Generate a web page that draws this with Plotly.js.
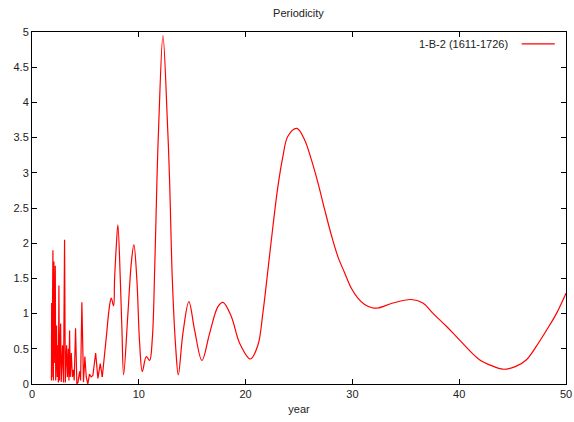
<!DOCTYPE html>
<html>
<head>
<meta charset="utf-8">
<script src="https://cdn.plot.ly/plotly-3.0.1.min.js"></script>
<style>html,body{margin:0;padding:0;background:#fff;}#chart{width:574px;height:422px;}</style>
</head>
<body>
<div id="chart"></div>
<script>
// Short-period region (jagged, straight segments)
var periodShort = [1.82, 1.84, 1.87, 1.96, 2.00, 2.05, 2.09, 2.18, 2.22, 2.30, 2.36, 2.42, 2.47, 2.52, 2.57, 2.68, 2.74, 2.86, 2.95, 3.05, 3.12, 3.24, 3.32, 3.40, 3.46, 3.52, 3.58, 3.68, 3.78, 3.87, 3.95, 4.08, 4.20, 4.30, 4.46, 4.55, 4.67, 4.82, 4.95, 5.08, 5.23, 5.38, 5.54, 5.70, 5.96, 6.17, 6.39, 6.58];
var powerShort  = [0.05, 1.15, 0.10, 1.90, 0.05, 1.74, 0.30, 1.68, 0.05, 0.83, 0.10, 0.55, 0.02, 1.40, 0.05, 0.86, 0.03, 0.55, 0.02, 2.05, 0.02, 0.55, 0.10, 0.50, 0.05, 0.76, 0.10, 0.44, 0.10, 0.20, 0.05, 0.79, 0.00, 0.02, 0.18, 0.05, 1.16, 0.03, 0.39, 0.10, 0.00, 0.14, 0.10, 0.12, 0.44, 0.08, 0.29, 0.10];

// Longer-period region (smooth curve)
var periodLong = [6.58, 6.96, 7.25, 7.42, 7.64, 7.73, 7.89, 8.04, 8.27, 8.42, 8.58, 8.98, 9.30, 9.54, 9.82, 10.07, 10.33, 10.70, 11.01, 11.26, 11.50, 11.70, 11.88, 12.26, 12.67, 12.88, 13.14, 13.45, 13.70, 14.13, 14.69, 15.22, 15.91, 16.63, 17.41, 17.88, 18.66, 19.44, 20.45, 21.15, 21.62, 22.09, 22.56, 23.03, 23.49, 23.96, 24.80, 25.52, 26.15, 26.77, 27.40, 28.02, 28.64, 29.27, 29.90, 30.51, 31.14, 31.92, 32.40, 33.80, 35.50, 36.60, 37.50, 38.80, 40.00, 41.90, 43.20, 44.10, 45.30, 46.30, 47.20, 48.20, 49.10, 50.00];
var powerLong  = [0.10, 0.67, 1.10, 1.22, 1.11, 1.48, 1.95, 2.26, 1.48, 0.77, 0.13, 1.00, 1.72, 1.98, 1.48, 0.60, 0.18, 0.39, 0.335, 0.63, 1.70, 2.90, 3.75, 4.95, 3.75, 2.90, 1.48, 0.53, 0.13, 0.72, 1.17, 0.77, 0.335, 0.72, 1.10, 1.16, 0.96, 0.58, 0.355, 0.55, 1.01, 1.62, 2.24, 2.81, 3.23, 3.52, 3.63, 3.47, 3.19, 2.86, 2.48, 2.12, 1.81, 1.58, 1.36, 1.22, 1.13, 1.08, 1.08, 1.15, 1.20, 1.15, 1.01, 0.82, 0.63, 0.345, 0.25, 0.21, 0.25, 0.345, 0.53, 0.77, 1.00, 1.29];

var seriesName = "1-B-2 (1611-1726)";
var xTicks = [0, 10, 20, 30, 40, 50];
var yTicks = [0, 0.5, 1, 1.5, 2, 2.5, 3, 3.5, 4, 4.5, 5];

var fontFam = "Liberation Sans, Arial, sans-serif";
var traces = [
  {x: periodShort, y: powerShort, type: "scatter", mode: "lines", line: {color: "#ff0000", width: 1.2, shape: "linear"}, showlegend: false, name: seriesName},
  {x: periodLong, y: powerLong, type: "scatter", mode: "lines", line: {color: "#ff0000", width: 1.2, shape: "spline", smoothing: 1}, showlegend: false, name: seriesName}
];

var axisCommon = {
  showgrid: false, zeroline: false, showline: true, linecolor: "#000", linewidth: 1,
  mirror: "ticks", ticks: "inside", ticklen: 5, tickwidth: 1, tickcolor: "#000",
  tickfont: {family: fontFam, size: 11, color: "#222"}
};

var layout = {
  width: 574, height: 422,
  margin: {l: 32, r: 8, t: 32, b: 38},
  paper_bgcolor: "#fff", plot_bgcolor: "#fff",
  title: {text: "Periodicity", font: {family: fontFam, size: 11, color: "#222"}, x: 0.52, xanchor: "center", y: 0.968, yanchor: "middle"},
  xaxis: Object.assign({}, axisCommon, {range: [0, 50], tickvals: xTicks, title: {text: "year", font: {family: fontFam, size: 11, color: "#222"}, standoff: 6}}),
  yaxis: Object.assign({}, axisCommon, {range: [0, 5], tickvals: yTicks, ticktext: yTicks.map(String)}),
  showlegend: false,
  annotations: [{xref: "paper", yref: "paper", x: 0.895, y: 0.966, xanchor: "right", yanchor: "middle", text: seriesName, showarrow: false, font: {family: fontFam, size: 11, color: "#222"}}],
  shapes: [{type: "line", xref: "paper", yref: "paper", x0: 0.917, x1: 0.979, y0: 0.966, y1: 0.966, line: {color: "#ff0000", width: 1.2}}]
};

Plotly.newPlot("chart", traces, layout, {displayModeBar: false, staticPlot: true});
</script>
</body>
</html>
